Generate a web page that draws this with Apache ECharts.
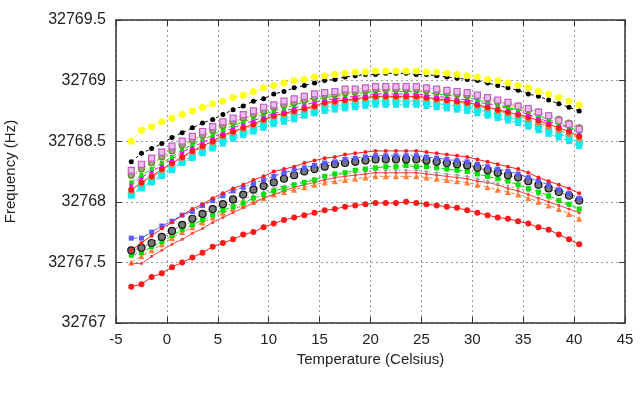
<!DOCTYPE html>
<html>
<head>
<meta charset="utf-8">
<script src="https://cdn.jsdelivr.net/npm/echarts@6/dist/echarts.min.js"></script>
<style>
  html, body { margin: 0; padding: 0; background: #fff; }
  #chart { width: 640px; height: 398px; }
</style>
</head>
<body>
<div id="chart"></div>
<script>
// Temperature steps (Celsius)
const temps = [-3.5, -2.5, -1.5, -0.5, 0.5, 1.5, 2.5, 3.5, 4.5, 5.5, 6.5, 7.5, 8.5, 9.5, 10.5,
    11.5, 12.5, 13.5, 14.5, 15.5, 16.5, 17.5, 18.5, 19.5, 20.5, 21.5, 22.5, 23.5, 24.5, 25.5,
    26.5, 27.5, 28.5, 29.5, 30.5, 31.5, 32.5, 33.5, 34.5, 35.5, 36.5, 37.5, 38.5, 39.5, 40.5];

// Upper group of crystals (Hz)
const upYellow = [32768.50, 32768.59, 32768.62, 32768.66, 32768.69, 32768.72, 32768.75, 32768.78, 32768.81, 32768.83,
    32768.86, 32768.88, 32768.91, 32768.94, 32768.96, 32768.98, 32769.00, 32769.01, 32769.03, 32769.04,
    32769.05, 32769.06, 32769.07, 32769.07, 32769.08, 32769.08, 32769.08, 32769.08, 32769.08, 32769.07,
    32769.07, 32769.06, 32769.05, 32769.04, 32769.03, 32769.01, 32769.00, 32768.98, 32768.96, 32768.94,
    32768.91, 32768.89, 32768.86, 32768.83, 32768.80];
const upBlack = [32768.33, 32768.40, 32768.44, 32768.48, 32768.53, 32768.57, 32768.61, 32768.65, 32768.68, 32768.72,
    32768.76, 32768.79, 32768.83, 32768.85, 32768.89, 32768.91, 32768.94, 32768.96, 32768.98, 32769.00,
    32769.01, 32769.03, 32769.04, 32769.05, 32769.05, 32769.06, 32769.06, 32769.06, 32769.05, 32769.05,
    32769.04, 32769.03, 32769.02, 32769.01, 32769.00, 32768.98, 32768.96, 32768.94, 32768.92, 32768.89,
    32768.87, 32768.84, 32768.81, 32768.78, 32768.75];
const upMauve = [32768.26, 32768.31, 32768.36, 32768.41, 32768.46, 32768.50, 32768.54, 32768.58, 32768.62, 32768.66,
    32768.69, 32768.72, 32768.75, 32768.78, 32768.80, 32768.83, 32768.85, 32768.87, 32768.89, 32768.90,
    32768.91, 32768.93, 32768.93, 32768.94, 32768.95, 32768.95, 32768.95, 32768.95, 32768.95, 32768.94,
    32768.93, 32768.92, 32768.91, 32768.90, 32768.88, 32768.86, 32768.84, 32768.82, 32768.79, 32768.77,
    32768.74, 32768.71, 32768.67, 32768.64, 32768.60];
const upOlive = [32768.22, 32768.27, 32768.32, 32768.37, 32768.42, 32768.47, 32768.51, 32768.55, 32768.59, 32768.63,
    32768.66, 32768.69, 32768.72, 32768.75, 32768.78, 32768.80, 32768.82, 32768.84, 32768.86, 32768.88,
    32768.89, 32768.90, 32768.91, 32768.92, 32768.93, 32768.93, 32768.93, 32768.93, 32768.93, 32768.92,
    32768.91, 32768.90, 32768.89, 32768.88, 32768.87, 32768.85, 32768.83, 32768.81, 32768.79, 32768.76,
    32768.74, 32768.71, 32768.68, 32768.65, 32768.61];
const upLime = [32768.21, 32768.26, 32768.31, 32768.36, 32768.41, 32768.46, 32768.50, 32768.54, 32768.58, 32768.62,
    32768.65, 32768.68, 32768.71, 32768.74, 32768.77, 32768.79, 32768.81, 32768.83, 32768.85, 32768.87,
    32768.88, 32768.89, 32768.90, 32768.91, 32768.92, 32768.92, 32768.92, 32768.92, 32768.92, 32768.91,
    32768.90, 32768.89, 32768.88, 32768.87, 32768.86, 32768.84, 32768.82, 32768.80, 32768.78, 32768.76,
    32768.74, 32768.71, 32768.69, 32768.66, 32768.63];
const upGreen = [32768.16, 32768.22, 32768.27, 32768.32, 32768.37, 32768.43, 32768.47, 32768.51, 32768.55, 32768.59,
    32768.63, 32768.66, 32768.69, 32768.72, 32768.75, 32768.77, 32768.80, 32768.82, 32768.84, 32768.86,
    32768.87, 32768.88, 32768.89, 32768.90, 32768.91, 32768.91, 32768.91, 32768.91, 32768.91, 32768.90,
    32768.89, 32768.88, 32768.87, 32768.86, 32768.84, 32768.82, 32768.80, 32768.78, 32768.76, 32768.74,
    32768.71, 32768.68, 32768.65, 32768.62, 32768.58];
const upMagenta = [32768.14, 32768.20, 32768.25, 32768.30, 32768.35, 32768.41, 32768.45, 32768.49, 32768.53, 32768.57,
    32768.61, 32768.64, 32768.67, 32768.70, 32768.73, 32768.75, 32768.77, 32768.80, 32768.82, 32768.84,
    32768.85, 32768.86, 32768.87, 32768.88, 32768.89, 32768.89, 32768.89, 32768.89, 32768.89, 32768.88,
    32768.87, 32768.86, 32768.85, 32768.84, 32768.82, 32768.81, 32768.79, 32768.77, 32768.75, 32768.72,
    32768.69, 32768.66, 32768.64, 32768.61, 32768.57];
const upRed = [32768.10, 32768.16, 32768.21, 32768.27, 32768.32, 32768.37, 32768.42, 32768.46, 32768.50, 32768.55,
    32768.58, 32768.61, 32768.64, 32768.68, 32768.71, 32768.73, 32768.75, 32768.77, 32768.79, 32768.82,
    32768.83, 32768.84, 32768.85, 32768.86, 32768.87, 32768.87, 32768.87, 32768.87, 32768.87, 32768.86,
    32768.85, 32768.84, 32768.83, 32768.82, 32768.80, 32768.78, 32768.76, 32768.74, 32768.72, 32768.70,
    32768.67, 32768.64, 32768.61, 32768.58, 32768.54];
const upOrange = [32768.09, 32768.15, 32768.20, 32768.26, 32768.31, 32768.36, 32768.41, 32768.45, 32768.49, 32768.54,
    32768.57, 32768.60, 32768.63, 32768.67, 32768.70, 32768.72, 32768.74, 32768.76, 32768.78, 32768.81,
    32768.82, 32768.83, 32768.84, 32768.85, 32768.86, 32768.86, 32768.86, 32768.86, 32768.86, 32768.85,
    32768.84, 32768.83, 32768.82, 32768.81, 32768.79, 32768.77, 32768.75, 32768.73, 32768.71, 32768.68,
    32768.65, 32768.62, 32768.59, 32768.56, 32768.52];
const upCyan = [32768.06, 32768.12, 32768.17, 32768.23, 32768.28, 32768.33, 32768.38, 32768.42, 32768.46, 32768.51,
    32768.54, 32768.57, 32768.60, 32768.64, 32768.67, 32768.69, 32768.71, 32768.73, 32768.75, 32768.78,
    32768.79, 32768.80, 32768.81, 32768.82, 32768.83, 32768.83, 32768.83, 32768.83, 32768.83, 32768.82,
    32768.81, 32768.80, 32768.79, 32768.78, 32768.76, 32768.74, 32768.72, 32768.70, 32768.68, 32768.65,
    32768.62, 32768.59, 32768.56, 32768.53, 32768.49];
const upCyan2 = [32768.05, 32768.11, 32768.16, 32768.21, 32768.26, 32768.32, 32768.36, 32768.40, 32768.44, 32768.48,
    32768.52, 32768.55, 32768.58, 32768.61, 32768.64, 32768.66, 32768.68, 32768.71, 32768.73, 32768.75,
    32768.76, 32768.77, 32768.78, 32768.79, 32768.80, 32768.80, 32768.80, 32768.80, 32768.80, 32768.79,
    32768.78, 32768.77, 32768.76, 32768.75, 32768.73, 32768.71, 32768.69, 32768.67, 32768.65, 32768.62,
    32768.59, 32768.56, 32768.53, 32768.50, 32768.46];

// Lower group of crystals (Hz)
const loRedDot = [32767.60, 32767.66, 32767.72, 32767.78, 32767.83, 32767.89, 32767.94, 32767.98, 32768.03, 32768.07,
    32768.11, 32768.14, 32768.18, 32768.21, 32768.25, 32768.27, 32768.29, 32768.32, 32768.34, 32768.36,
    32768.37, 32768.39, 32768.40, 32768.41, 32768.42, 32768.42, 32768.42, 32768.42, 32768.42, 32768.41,
    32768.40, 32768.39, 32768.38, 32768.37, 32768.35, 32768.33, 32768.31, 32768.29, 32768.27, 32768.24,
    32768.20, 32768.17, 32768.14, 32768.11, 32768.07];
const loBlue = [32767.70, 32767.70, 32767.75, 32767.80, 32767.84, 32767.89, 32767.92, 32767.97, 32768.01, 32768.05,
    32768.09, 32768.12, 32768.15, 32768.18, 32768.21, 32768.24, 32768.26, 32768.28, 32768.30, 32768.32,
    32768.33, 32768.35, 32768.36, 32768.37, 32768.38, 32768.38, 32768.38, 32768.38, 32768.38, 32768.37,
    32768.36, 32768.35, 32768.34, 32768.33, 32768.31, 32768.29, 32768.27, 32768.25, 32768.23, 32768.20,
    32768.17, 32768.14, 32768.10, 32768.07, 32768.03];
const loBlack = [32767.60, 32767.62, 32767.66, 32767.71, 32767.76, 32767.81, 32767.86, 32767.90, 32767.94, 32767.98,
    32768.02, 32768.06, 32768.10, 32768.13, 32768.16, 32768.19, 32768.22, 32768.25, 32768.27, 32768.29,
    32768.31, 32768.32, 32768.33, 32768.34, 32768.35, 32768.35, 32768.35, 32768.35, 32768.35, 32768.34,
    32768.33, 32768.32, 32768.31, 32768.30, 32768.28, 32768.26, 32768.24, 32768.22, 32768.20, 32768.17,
    32768.14, 32768.11, 32768.08, 32768.05, 32768.01];
const loGreen = [32767.56, 32767.58, 32767.63, 32767.67, 32767.72, 32767.77, 32767.81, 32767.85, 32767.89, 32767.93,
    32767.96, 32767.99, 32768.03, 32768.06, 32768.09, 32768.11, 32768.14, 32768.16, 32768.18, 32768.21,
    32768.23, 32768.24, 32768.26, 32768.27, 32768.28, 32768.29, 32768.29, 32768.30, 32768.29, 32768.29,
    32768.28, 32768.27, 32768.26, 32768.25, 32768.23, 32768.21, 32768.19, 32768.17, 32768.14, 32768.11,
    32768.08, 32768.05, 32768.01, 32767.98, 32767.94];
const loGray = [32767.55, 32767.60, 32767.65, 32767.70, 32767.75, 32767.80, 32767.84, 32767.88, 32767.92, 32767.96,
    32767.99, 32768.02, 32768.05, 32768.08, 32768.11, 32768.13, 32768.15, 32768.17, 32768.19, 32768.21,
    32768.22, 32768.23, 32768.24, 32768.25, 32768.26, 32768.26, 32768.26, 32768.26, 32768.26, 32768.25,
    32768.24, 32768.23, 32768.22, 32768.21, 32768.19, 32768.17, 32768.15, 32768.13, 32768.11, 32768.09,
    32768.06, 32768.03, 32768.00, 32767.97, 32767.93];
const loRedThin = [32767.49, 32767.49, 32767.55, 32767.60, 32767.65, 32767.69, 32767.74, 32767.78, 32767.83, 32767.87,
    32767.91, 32767.95, 32767.99, 32768.03, 32768.06, 32768.09, 32768.12, 32768.14, 32768.16, 32768.18,
    32768.20, 32768.21, 32768.22, 32768.23, 32768.24, 32768.24, 32768.24, 32768.24, 32768.24, 32768.23,
    32768.22, 32768.21, 32768.20, 32768.19, 32768.17, 32768.16, 32768.14, 32768.11, 32768.09, 32768.06,
    32768.03, 32768.00, 32767.97, 32767.94, 32767.91];
const loOrange = [32767.50, 32767.55, 32767.60, 32767.65, 32767.70, 32767.75, 32767.79, 32767.83, 32767.87, 32767.91,
    32767.94, 32767.97, 32768.00, 32768.03, 32768.06, 32768.08, 32768.10, 32768.12, 32768.14, 32768.16,
    32768.17, 32768.18, 32768.19, 32768.20, 32768.21, 32768.21, 32768.21, 32768.21, 32768.21, 32768.20,
    32768.19, 32768.18, 32768.17, 32768.16, 32768.14, 32768.12, 32768.10, 32768.08, 32768.06, 32768.03,
    32768.00, 32767.97, 32767.94, 32767.90, 32767.86];
const loRedBig = [32767.30, 32767.32, 32767.38, 32767.41, 32767.46, 32767.50, 32767.54, 32767.58, 32767.63, 32767.66,
    32767.69, 32767.73, 32767.75, 32767.79, 32767.82, 32767.85, 32767.87, 32767.89, 32767.91, 32767.93,
    32767.94, 32767.96, 32767.97, 32767.98, 32767.99, 32767.99, 32767.99, 32768.00, 32767.99, 32767.98,
    32767.97, 32767.96, 32767.95, 32767.93, 32767.91, 32767.89, 32767.87, 32767.86, 32767.84, 32767.82,
    32767.79, 32767.77, 32767.73, 32767.69, 32767.65];

const FONT = 'Liberation Sans';

// Marker / line style per curve
const curves = [
    { name: 'redBig', vals: loRedBig, color: '#ff1a1a', symbol: 'circle', size: 6, line: 'solid' },
    { name: 'orangeLo', vals: loOrange, color: '#ff7f3a', symbol: 'triangle', size: 6, line: [4, 3] },
    { name: 'redThin', vals: loRedThin, color: '#ff4040', symbol: 'circle', size: 3, line: 'solid' },
    { name: 'grayLo', vals: loGray, color: '#a0a0a0', symbol: 'circle', size: 3, line: [2, 3] },
    { name: 'greenLo', vals: loGreen, color: '#00e000', symbol: 'rect', size: 5, line: [5, 3] },
    { name: 'blackLo', vals: loBlack, color: '#777777', border: '#111111', symbol: 'circle', size: 7, line: [2, 3] },
    { name: 'blueLo', vals: loBlue, color: '#5a5aff', symbol: 'rect', size: 5, line: [6, 2, 2, 2] },
    { name: 'redDot', vals: loRedDot, color: '#ff1a1a', symbol: 'circle', size: 4, line: 'solid' },
    { name: 'cyan2', vals: upCyan2, color: '#22e0ee', symbol: 'rect', size: 6, line: [3, 3] },
    { name: 'cyan', vals: upCyan, color: '#00f0f0', symbol: 'rect', size: 7, line: [3, 3] },
    { name: 'orangeUp', vals: upOrange, color: '#ff7f3a', symbol: 'circle', size: 6, line: [4, 3] },
    { name: 'redUp', vals: upRed, color: '#ff1a1a', symbol: 'circle', size: 6, line: 'solid' },
    { name: 'magenta', vals: upMagenta, color: '#ee00ee', symbol: 'rect', size: 4, line: [4, 3] },
    { name: 'green', vals: upGreen, color: '#00e000', symbol: 'rect', size: 4, line: [5, 3] },
    { name: 'lime', vals: upLime, color: '#d6d600', symbol: 'circle', size: 3, line: [2, 3] },
    { name: 'olive', vals: upOlive, color: '#a0a088', border: '#6f8a2a', symbol: 'circle', size: 6, line: [2, 3] },
    { name: 'mauve', vals: upMauve, color: '#eebbee', border: '#c060c0', symbol: 'rect', size: 6, line: [4, 3] },
    { name: 'blackUp', vals: upBlack, color: '#000000', symbol: 'circle', size: 5, line: [3, 3] },
    { name: 'yellow', vals: upYellow, color: '#ffff1a', symbol: 'circle', size: 7, line: [3, 3] }
];

const series = curves.map(function(c) {
    return {
        name: c.name,
        type: 'line',
        data: temps.map((t, i) => [t, c.vals[i]]),
        symbol: c.symbol,
        symbolSize: c.size,
        showAllSymbol: true,
        lineStyle: { color: c.color, width: 1, type: c.line },
        itemStyle: {
            color: c.color,
            borderColor: c.border || c.color,
            borderWidth: c.border ? 1.2 : 0
        },
        emphasis: { disabled: true },
        silent: true
    };
});

const gridDots = { show: true, lineStyle: { color: '#9a9a9a', width: 1, type: [2, 3] } };
const frameLine = { show: true, onZero: false, lineStyle: { color: '#333333', width: 1.5 } };
const innerTick = { show: true, inside: true, length: 6, lineStyle: { color: '#333333', width: 1 } };

const option = {
    animation: false,
    backgroundColor: '#ffffff',
    grid: { left: 116, right: 15, top: 20, bottom: 75, containLabel: false, outerBoundsMode: 'none' },
    xAxis: [
        {
            type: 'value', min: -5, max: 45, interval: 5,
            name: 'Temperature (Celsius)', nameLocation: 'middle', nameGap: 26,
            nameTextStyle: { fontFamily: FONT, fontSize: 15, color: '#222' },
            axisLine: frameLine, axisTick: innerTick, splitLine: gridDots,
            axisLabel: { fontFamily: FONT, fontSize: 15, color: '#222', margin: 9,
                showMinLabel: true, showMaxLabel: true, hideOverlap: false }
        },
        {
            type: 'value', min: -5, max: 45, interval: 5, position: 'top',
            axisLine: frameLine, axisTick: innerTick, splitLine: { show: false },
            axisLabel: { show: false }
        }
    ],
    yAxis: [
        {
            type: 'value', min: 32767, max: 32769.5, interval: 0.5,
            name: 'Frequency (Hz)', nameLocation: 'middle', nameGap: 98,
            nameTextStyle: { fontFamily: FONT, fontSize: 15, color: '#222' },
            axisLine: frameLine, axisTick: innerTick, splitLine: gridDots,
            axisLabel: { fontFamily: FONT, fontSize: 16, color: '#222', margin: 10,
                formatter: v => String(v) }
        },
        {
            type: 'value', min: 32767, max: 32769.5, interval: 0.5, position: 'right',
            axisLine: frameLine, axisTick: innerTick, splitLine: { show: false },
            axisLabel: { show: false }
        }
    ],
    series: series
};

const myChart = echarts.init(document.getElementById('chart'));
myChart.setOption(option);
</script>
</body>
</html>
